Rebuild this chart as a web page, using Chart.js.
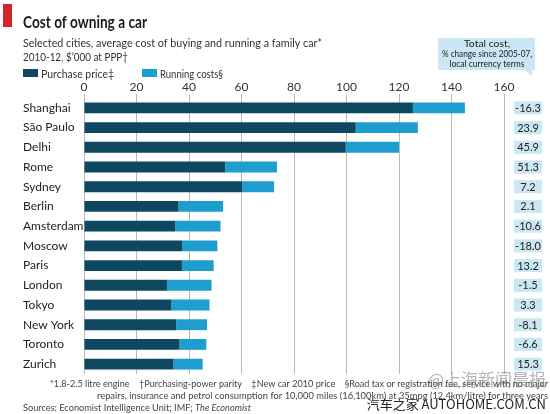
<!DOCTYPE html>
<html>
<head>
<meta charset="utf-8">
<script src="https://cdn.jsdelivr.net/npm/chart.js@4/dist/chart.umd.min.js"></script>
<style>
  html, body { margin: 0; padding: 0; background: #fff; }
  #wrap { position: relative; width: 550px; height: 414px; }
</style>
</head>
<body>
<div id="wrap"><canvas id="carCost"></canvas></div>
<script>
// Dados
const cities = ['Shanghai', 'São Paulo', 'Delhi', 'Rome', 'Sydney', 'Berlin', 'Amsterdam',
  'Moscow', 'Paris', 'London', 'Tokyo', 'New York', 'Toronto', 'Zurich'];
const purchasePrice = [125.3, 103.5, 99.7, 53.8, 60.3, 36.0, 34.7, 37.4, 37.3, 31.6, 33.3, 35.1, 36.4, 34.1];
const runningCosts = [19.8, 23.7, 20.3, 19.7, 12.1, 17.0, 17.3, 13.4, 12.1, 17.0, 14.5, 11.8, 10.2, 11.1];
const pctChange = ['-16.3', '23.9', '45.9', '51.3', '7.2', '2.1', '-10.6', '-18.0', '13.2', '-1.5', '3.3', '-8.1', '-6.6', '15.3'];
const xTicks = [0, 20, 40, 60, 80, 100, 120, 140, 160];

const FONT = 'Lato, "DejaVu Sans Condensed", sans-serif';
const DARK = '#0d4860';
const LIGHT = '#1e9ecf';
const PALE = '#cbe7f4';

// escreve um texto ajustado a uma largura dada
function fitText(c, str, x, y, font, width, align) {
  c.font = font;
  const w = c.measureText(str).width;
  const k = width ? width / w : 1;
  c.save();
  c.translate(x, y);
  c.scale(k, 1);
  c.textAlign = align || 'left';
  c.fillText(str, 0, 0);
  c.restore();
  return k;
}

// Textos e caixas fora da área do gráfico
const decor = {
  id: 'decor',
  beforeDraw(chart) {
    const c = chart.ctx;
    c.save();
    c.fillStyle = '#fff';
    c.fillRect(0, 0, chart.width, chart.height);
    c.restore();
  },
  afterDraw(chart) {
    const c = chart.ctx;
    const yScale = chart.scales.y;
    c.save();
    c.textBaseline = 'alphabetic';

    // etiqueta vermelha
    c.fillStyle = '#d3262b';
    c.fillRect(3, 4, 9, 23);

    c.fillStyle = '#1a1a1a';
    fitText(c, 'Cost of owning a car', 23, 28, 'bold 17px ' + FONT, 124);

    c.fillStyle = '#333';
    fitText(c, 'Selected cities, average cost of buying and running a family car*', 23, 47, '12px ' + FONT, 299);
    fitText(c, '2010-12, $\u2019000 at PPP\u2020', 23, 61, '12px ' + FONT, 105);

    // legenda
    const ds = chart.data.datasets;
    const legendX = [23, 142];
    const legendW = [73, 63];
    ds.forEach((d, i) => {
      c.fillStyle = d.backgroundColor;
      c.fillRect(legendX[i], 69, 15, 8);
      c.fillStyle = '#333';
      fitText(c, d.label, legendX[i] + 18, 78, '12px ' + FONT, legendW[i]);
    });

    // caixa do cabeçalho
    c.fillStyle = PALE;
    c.fillRect(438, 38, 97, 32);
    c.beginPath();
    c.moveTo(524, 70); c.lineTo(532, 70); c.lineTo(532, 76);
    c.closePath(); c.fill();
    c.fillStyle = '#222';
    fitText(c, 'Total cost,', 487, 47, '10px ' + FONT, 46, 'center');
    fitText(c, '% change since 2005-07,', 487, 57, '10px ' + FONT, 90, 'center');
    fitText(c, 'local currency terms', 487, 67, '10px ' + FONT, 75, 'center');

    // variação % por cidade
    c.font = '11px ' + FONT;
    c.textAlign = 'center';
    pctChange.forEach((v, i) => {
      const y = yScale.getPixelForValue(i);
      c.fillStyle = PALE;
      c.fillRect(514, y - 6.5, 28, 13);
      c.fillStyle = '#222';
      c.fillText(v, 528, y + 4);
    });

    // notas
    c.fillStyle = '#444';
    fitText(c, '*1.8-2.5 litre engine    \u2020Purchasing-power parity    \u2021New car 2010 price    \u00a7Road tax or registration fee, service with no major',
      50, 387, '10px ' + FONT, 498);
    fitText(c, 'repairs, insurance and petrol consumption for 10,000 miles (16,100km) at 35mpg (12.4km/litre) for three years',
      97, 399, '10px ' + FONT, 451);
    const src = 'Sources: Economist Intelligence Unit; IMF; ';
    c.font = '10px ' + FONT;
    const w1 = c.measureText(src).width;
    c.font = 'italic 10px ' + FONT;
    const w2 = c.measureText('The Economist').width;
    const k = 228 / (w1 + w2);
    fitText(c, src, 23, 411, '10px ' + FONT, w1 * k);
    fitText(c, 'The Economist', 23 + w1 * k, 411, 'italic 10px ' + FONT, w2 * k);

    // marcas d'água
    c.textAlign = 'right';
    c.fillStyle = 'rgba(90,90,90,0.45)';
    c.font = '17px "Noto Sans CJK SC", sans-serif';
    c.fillText('@上海新闻晨报', 546, 386);
    c.fillStyle = '#222';
    c.font = '13px "Noto Sans CJK SC", sans-serif';
    c.fillText('汽车之家 AUTOHOME.COM.CN', 546, 409);

    c.restore();
  }
};

const ctx = document.getElementById('carCost').getContext('2d');
new Chart(ctx, {
  type: 'bar',
  data: {
    labels: cities,
    datasets: [
      { label: 'Purchase price\u2021', data: purchasePrice, backgroundColor: DARK, barPercentage: 0.55, categoryPercentage: 1 },
      { label: 'Running costs\u00a7', data: runningCosts, backgroundColor: LIGHT, barPercentage: 0.55, categoryPercentage: 1 }
    ]
  },
  options: {
    indexAxis: 'y',
    responsive: true,
    maintainAspectRatio: false,
    animation: false,
    layout: { padding: { top: 78, left: 23, right: 46, bottom: 40 } },
    plugins: {
      legend: { display: false },
      tooltip: { enabled: false }
    },
    scales: {
      x: {
        position: 'top',
        stacked: true,
        min: 0,
        max: 160,
        afterBuildTicks: s => { s.ticks = xTicks.map(v => ({ value: v })); },
        afterFit: s => { s.height = 20; },
        ticks: { color: '#333', font: { family: FONT, size: 12 }, padding: 0 },
        grid: { color: '#b8b8b8', lineWidth: 1, tickLength: 4 },
        border: { display: false }
      },
      y: {
        stacked: true,
        afterFit: s => { s.width = 61; },
        ticks: { color: '#222', font: { family: FONT, size: 12 }, crossAlign: 'far', padding: 4 },
        grid: { display: false },
        border: { display: false }
      }
    }
  },
  plugins: [decor]
});
</script>
</body>
</html>
